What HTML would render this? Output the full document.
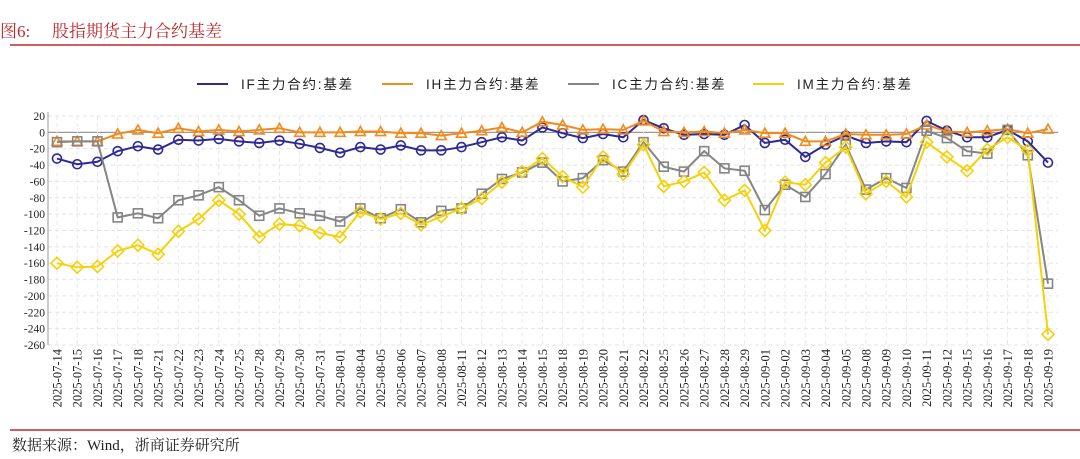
<!DOCTYPE html>
<html><head><meta charset="utf-8">
<style>
body{margin:0;background:#fff;width:1080px;height:459px;overflow:hidden;}
svg{display:block;}
</style></head>
<body>
<svg id="chart" width="1080" height="459" xmlns="http://www.w3.org/2000/svg">
<text x="0" y="37" font-family="'Liberation Serif','Noto Serif CJK SC',serif" font-size="17" fill="#c0282d">图6:<tspan x="52">股指期货主力合约基差</tspan></text>
<line x1="10" y1="45" x2="1080" y2="45" stroke="#c0282d" stroke-width="1.5"/>
<line x1="10" y1="430" x2="1080" y2="430" stroke="#c0282d" stroke-width="1.5"/>
<text x="12" y="450" font-family="'Liberation Serif','Noto Serif CJK SC',serif" font-size="15" fill="#222">数据来源：Wind，浙商证券研究所</text>
<g id="grid"></g><g id="axes"></g><g id="series"></g><g id="legend"></g>
</svg>
<script>
const categories=["2025-07-14","2025-07-15","2025-07-16","2025-07-17","2025-07-18","2025-07-21","2025-07-22","2025-07-23","2025-07-24","2025-07-25","2025-07-28","2025-07-29","2025-07-30","2025-07-31","2025-08-01","2025-08-04","2025-08-05","2025-08-06","2025-08-07","2025-08-08","2025-08-11","2025-08-12","2025-08-13","2025-08-14","2025-08-15","2025-08-18","2025-08-19","2025-08-20","2025-08-21","2025-08-22","2025-08-25","2025-08-26","2025-08-27","2025-08-28","2025-08-29","2025-09-01","2025-09-02","2025-09-03","2025-09-04","2025-09-05","2025-09-08","2025-09-09","2025-09-10","2025-09-11","2025-09-12","2025-09-15","2025-09-16","2025-09-17","2025-09-18","2025-09-19"];
const ifBasis=[-32,-39,-36,-23,-17,-21,-9,-10,-8,-11,-13,-10,-14,-19,-25,-18,-21,-16,-22,-22,-18,-12,-6,-10,6,-1,-7,-2,-6,15,5,-3,-2,-3,9,-13,-9,-30,-15,-4,-13,-11,-12,14,2,-6,-6,3,-11,-37];
const ihBasis=[-11,-11,-11,-2,3,-1,5,1,3,1,3,5,0,0,0,1,1,-1,-1,-4,-1,2,6,0,13,9,3,4,3,14,1,0,1,-1,3,-1,-1,-11,-11,-2,-3,-3,-2,9,1,0,2,4,-1,4];
const icBasis=[-12,-11,-11,-104,-99,-105,-83,-77,-67,-83,-102,-93,-99,-102,-109,-93,-105,-94,-110,-96,-93,-75,-57,-49,-37,-60,-56,-34,-48,-12,-42,-48,-23,-44,-47,-95,-64,-79,-51,-15,-70,-56,-68,2,-7,-23,-26,3,-28,-185];
const imBasis=[-160,-165,-164,-145,-138,-149,-121,-106,-83,-100,-128,-112,-114,-123,-128,-97,-106,-99,-113,-103,-93,-81,-61,-48,-32,-54,-67,-30,-51,-15,-66,-60,-49,-83,-71,-120,-61,-64,-37,-18,-75,-60,-79,-12,-30,-47,-21,-6,-22,-247];
const yTicks=[20,0,-20,-40,-60,-80,-100,-120,-140,-160,-180,-200,-220,-240,-260];
const seriesNames=["IF主力合约:基差","IH主力合约:基差","IC主力合约:基差","IM主力合约:基差"];

const NS="http://www.w3.org/2000/svg";
const L=48,R=1058,T=116,B=345,X0=57,X1=1048,YMAX=20,YMIN=-260;
const xs=i=>X0+(X1-X0)*i/(categories.length-1);
const ys=v=>T+(YMAX-v)*(B-T)/(YMAX-YMIN);
function mk(tag,attrs,parent){const e=document.createElementNS(NS,tag);for(const k in attrs)e.setAttribute(k,attrs[k]);parent.appendChild(e);return e;}
const grid=document.getElementById('grid'),axes=document.getElementById('axes'),ser=document.getElementById('series'),leg=document.getElementById('legend');
yTicks.forEach(v=>{
  const y=ys(v);
  const g=mk('line',{x1:L,x2:R,y1:y,y2:y,stroke:v===0?'#999':'#e4e4e4','stroke-width':v===0?1.2:1,'stroke-dasharray':v===0?'':'4,3'},grid);
  
  
  const t=mk('text',{x:L-3,y:y+4,'text-anchor':'end','font-family':"'Liberation Serif',serif",'font-size':11.5,fill:'#222'},axes);
  t.textContent=v;
  
  
});
categories.forEach((c,i)=>{
  const x=xs(i);
  const g=mk('line',{x1:x,x2:x,y1:T,y2:B,stroke:'#e8e8e8','stroke-dasharray':'4,3'},grid);
  
  
  const t=mk('text',{x:0,y:0,transform:`translate(${x+4.5},${B+4}) rotate(-90)`,'text-anchor':'end','font-family':"'Liberation Serif',serif",'font-size':12.5,fill:'#222'},axes);
  t.textContent=c;
  
  
});
const ax=mk('line',{x1:L,x2:L,y1:T-4,y2:B,stroke:'#999'},axes);



const defs=[{d:ifBasis,c:'#2e2a94',m:'circle'},{d:ihBasis,c:'#f28a1c',m:'tri'},{d:icBasis,c:'#858585',m:'square'},{d:imBasis,c:'#f5d10c',m:'diamond'}];
const slug=['if','ih','ic','im'];
defs.forEach((s,k)=>{
  const g=mk('g',{},ser);
  
  
  const pts=s.d.map((v,i)=>xs(i)+','+ys(v)).join(' ');
  const pl=mk('polyline',{points:pts,fill:'none',stroke:s.c,'stroke-width':2},g);
  
  
  s.d.forEach((v,i)=>{
    const x=xs(i),y=ys(v);let e;
    if(s.m==='circle')e=mk('circle',{cx:x,cy:y,r:4.5,fill:'none',stroke:s.c,'stroke-width':1.6},g);
    else if(s.m==='tri')e=mk('polygon',{points:`${x},${y-5} ${x-5},${y+4} ${x+5},${y+4}`,fill:'none',stroke:s.c,'stroke-width':1.6},g);
    else if(s.m==='square')e=mk('rect',{x:x-4.5,y:y-4.5,width:9,height:9,fill:'none',stroke:s.c,'stroke-width':1.6},g);
    else e=mk('polygon',{points:`${x},${y-6} ${x+6},${y} ${x},${y+6} ${x-6},${y}`,fill:'none',stroke:s.c,'stroke-width':1.6},g);
    
    
  });
  const lx=[197,382,568,753][k];
  const lg=mk('g',{},leg);
  
  
  mk('line',{x1:lx,x2:lx+31,y1:84,y2:84,stroke:s.c,'stroke-width':2},lg);
  const t=mk('text',{x:lx+44,y:89,'font-family':"'Liberation Sans','Noto Sans CJK SC',sans-serif",'font-size':13.5,'letter-spacing':1.8,fill:'#222'},lg);
  t.textContent=seriesNames[k];
});
</script>
</body></html>
